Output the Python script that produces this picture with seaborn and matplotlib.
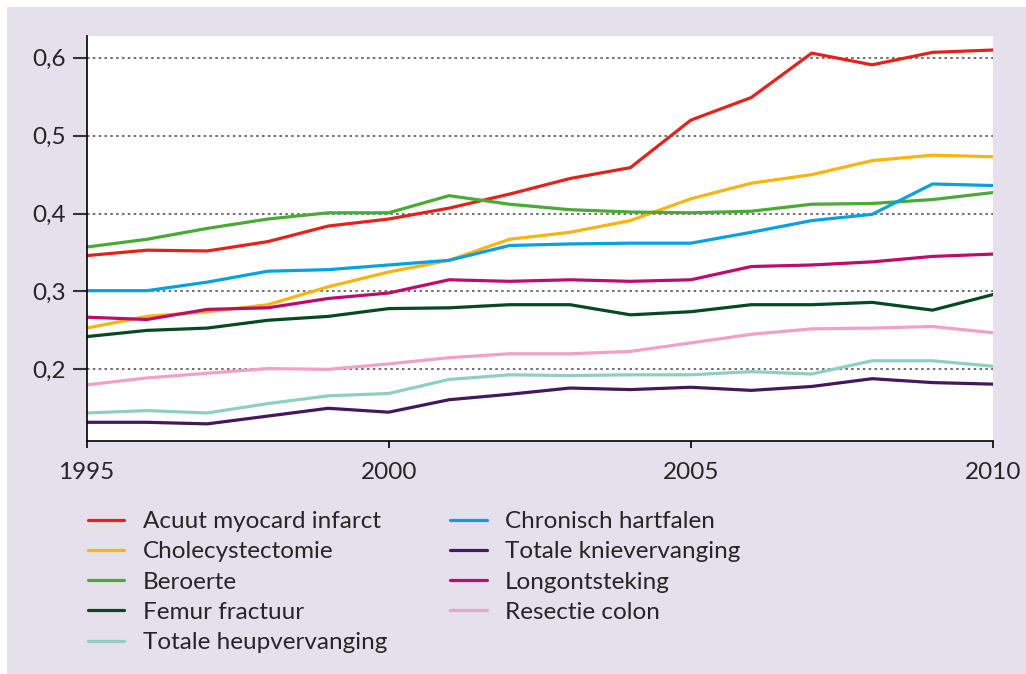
import numpy as np
import pandas as pd
import seaborn as sns
import matplotlib.pyplot as plt
from matplotlib.patches import Rectangle

# Years on the x axis
years = list(range(1995, 2011))

# Series values
acuut_myocard_infarct = [0.346, 0.353, 0.352, 0.364, 0.384, 0.393, 0.407, 0.425, 0.445, 0.459,
                         0.520, 0.549, 0.606, 0.591, 0.607, 0.610]
cholecystectomie = [0.253, 0.268, 0.274, 0.283, 0.306, 0.325, 0.340, 0.367, 0.376, 0.391,
                    0.419, 0.439, 0.450, 0.468, 0.475, 0.473]
beroerte = [0.357, 0.367, 0.381, 0.393, 0.401, 0.401, 0.423, 0.412, 0.405, 0.402,
            0.401, 0.403, 0.412, 0.413, 0.418, 0.427]
femur_fractuur = [0.242, 0.250, 0.253, 0.263, 0.268, 0.278, 0.279, 0.283, 0.283, 0.270,
                  0.274, 0.283, 0.283, 0.286, 0.276, 0.296]
totale_heupvervanging = [0.144, 0.147, 0.144, 0.156, 0.166, 0.169, 0.187, 0.193, 0.192, 0.193,
                         0.193, 0.197, 0.194, 0.211, 0.211, 0.204]
chronisch_hartfalen = [0.301, 0.301, 0.312, 0.326, 0.328, 0.334, 0.340, 0.359, 0.361, 0.362,
                       0.362, 0.376, 0.391, 0.399, 0.438, 0.436]
totale_knievervanging = [0.132, 0.132, 0.130, 0.140, 0.150, 0.145, 0.161, 0.168, 0.176, 0.174,
                         0.177, 0.173, 0.178, 0.188, 0.183, 0.181]
longontsteking = [0.267, 0.264, 0.277, 0.279, 0.291, 0.298, 0.315, 0.313, 0.315, 0.313,
                  0.315, 0.332, 0.334, 0.338, 0.345, 0.348]
resectie_colon = [0.180, 0.189, 0.195, 0.201, 0.200, 0.207, 0.215, 0.220, 0.220, 0.223,
                  0.234, 0.245, 0.252, 0.253, 0.255, 0.247]

series_names = ["Acuut myocard infarct", "Cholecystectomie", "Beroerte", "Femur fractuur",
                "Totale heupvervanging", "Chronisch hartfalen", "Totale knievervanging",
                "Longontsteking", "Resectie colon"]
series_values = [acuut_myocard_infarct, cholecystectomie, beroerte, femur_fractuur,
                 totale_heupvervanging, chronisch_hartfalen, totale_knievervanging,
                 longontsteking, resectie_colon]
colors = ["#e3231b", "#fbb30f", "#48ab33", "#054a22", "#8dd0c1",
          "#05a2e2", "#44175f", "#be0b6e", "#f3a0c8"]

y_ticks = [0.2, 0.3, 0.4, 0.5, 0.6]
x_ticks = [1995, 2000, 2005, 2010]

# Long-form table for seaborn
df = pd.DataFrame({
    "jaar": np.tile(years, len(series_names)),
    "waarde": np.concatenate(series_values),
    "reeks": np.repeat(series_names, len(years)),
})

sns.set_style("white")
plt.rcParams['font.family'] = ['Lato', 'DejaVu Sans']

lavender = "#e5e0ec"
fig = plt.figure(figsize=(10.26, 6.74), dpi=100, facecolor="white")
# lavender panel with a thin white strip left and top
fig.patches.append(Rectangle((7 / 1026, 0), 1, 1 - 7 / 674, transform=fig.transFigure,
                             facecolor=lavender, edgecolor="none", zorder=-10))

ax = fig.add_axes([86.5 / 1026, 1 - 441 / 674, (993 - 86.5) / 1026, (441 - 36) / 674])
ax.set_facecolor("white")

sns.lineplot(data=df, x="jaar", y="waarde", hue="reeks", hue_order=series_names,
             palette=dict(zip(series_names, colors)), linewidth=2.3, ax=ax, legend=False)

ax.set_xlim(1995, 2010)
ax.set_ylim(0.108, 0.628)
ax.set_xticks(x_ticks)
ax.set_yticks(y_ticks)
ax.set_yticklabels([f"{t:.1f}".replace(".", ",") for t in y_ticks])
ax.set_xlabel("")
ax.set_ylabel("")

for t in y_ticks:
    ax.axhline(t, color="#555555", linestyle=(0, (1.5, 2)), linewidth=1.2, zorder=0)

for side in ["top", "right"]:
    ax.spines[side].set_visible(False)
for side in ["left", "bottom"]:
    ax.spines[side].set_color("black")
    ax.spines[side].set_linewidth(1.2)

ax.tick_params(axis="y", direction="out", length=10, width=1.5, color="#333333",
               labelsize=17.5, pad=5, left=True)
ax.tick_params(axis="x", direction="out", length=5, width=1.2, color="black",
               labelsize=17.5, pad=10, bottom=True)

# Legend below the plot, two columns
handles = [plt.Line2D([], [], color=c, linewidth=2.3) for c in colors]
fig.legend(handles, series_names, ncol=2, frameon=False, fontsize=17.5,
           loc="upper left", bbox_to_anchor=(88 / 1026, 1 - 511 / 674),
           borderpad=0, borderaxespad=0,
           handlelength=1.5, handletextpad=0.75, columnspacing=2.6, labelspacing=0.38)

fig.savefig("out.png", dpi=100, facecolor=fig.get_facecolor())
